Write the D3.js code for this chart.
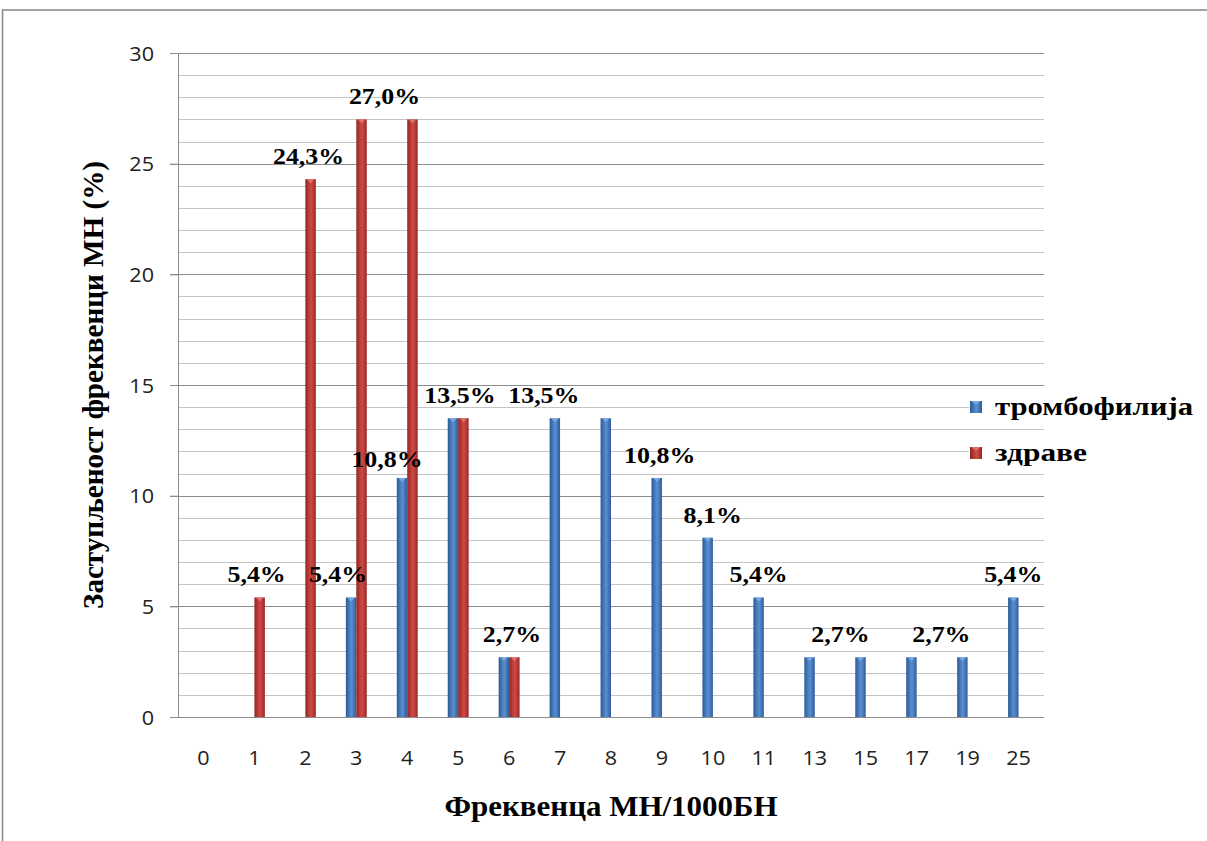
<!DOCTYPE html>
<html>
<head>
<meta charset="utf-8">
<script src="https://cdn.jsdelivr.net/npm/d3@7/dist/d3.min.js"></script>
<style>
  html, body { margin: 0; padding: 0; background: #fff; }
  svg { display: block; }
</style>
</head>
<body>
<svg id="chart" width="1207" height="841"></svg>
<script>
// ---------------- data ----------------
const categories = ['0','1','2','3','4','5','6','7','8','9','10','11','13','15','17','19','25'];
const seriesNames = ['тромбофилија', 'здраве'];
const thrombophilia = [0, 0, 0, 5.4, 10.8, 13.5, 2.7, 13.5, 13.5, 10.8, 8.1, 5.4, 2.7, 2.7, 2.7, 2.7, 5.4];
const healthy       = [0, 5.4, 24.3, 27.0, 27.0, 13.5, 2.7, 0, 0, 0, 0, 0, 0, 0, 0, 0, 0];
const yTicks = [0, 5, 10, 15, 20, 25, 30];
const yTitle = 'Заступљеност фреквенци МН (%)';
const xTitle = 'Фреквенца МН/1000БН';
// which bars carry a value label (category, series index)
const labelCats   = ['1', '2', '3', '3', '4', '5', '7', '6', '9', '10', '11', '15', '19', '25'];
const labelSeries = [1, 1, 1, 0, 0, 0, 0, 0, 0, 0, 0, 0, 0, 0];

// ---------------- layout ----------------
const plot = { left: 178, right: 1044, top: 53, bottom: 717 };
const labelDx = [-3, -2, 23, -13, -15, 7, -11, 8, 3, 5, 0, -20, -21, 0];
const labelDy = [0, 0, 0, 0, 4, 0, 0, 0, 0, 0, 0, 0, 0, 0];
const stretch = 1.08;
const serif = "'Liberation Serif', 'Times New Roman', serif";
const sans = "'Open Sans', 'Noto Sans', sans-serif";

const svg = d3.select('#chart');

// gradients
const defs = svg.append('defs');
function grad(id, stops) {
  const g = defs.append('linearGradient').attr('id', id).attr('x1', 0).attr('x2', 1).attr('y1', 0).attr('y2', 0);
  stops.forEach(s => g.append('stop').attr('offset', s[0]).attr('stop-color', s[1]));
}
grad('gBlue', [[0, '#2a5a94'], [0.3, '#4679ba'], [0.55, '#5a8ed0'], [0.8, '#4273b3'], [1, '#2c5c96']]);
grad('gRed',  [[0, '#8c2623'], [0.3, '#b93a36'], [0.55, '#cc4a45'], [0.8, '#b53733'], [1, '#8f2724']]);
const fills = ['url(#gBlue)', 'url(#gRed)'];
const capFills = ['#7eaee6', '#e07a76'];

// outer frame
svg.append('rect').attr('x', 2.5).attr('y', 10).attr('width', 1400).attr('height', 1200)
  .attr('fill', 'none').attr('stroke', '#8a8a8a').attr('stroke-width', 1.6);

// scales
const x = d3.scaleBand().domain(categories).range([plot.left, plot.right])
  .paddingInner(0.59).paddingOuter(0.295);
const xs = d3.scaleBand().domain([0, 1]).range([0, x.bandwidth()]);
const y = d3.scaleLinear().domain([0, 30]).range([plot.bottom, plot.top]);

// gridlines (minor every 1, major every 5)
const minor = d3.range(1, 30).filter(v => v % 5 !== 0);
svg.append('g').selectAll('line').data(minor).join('line')
  .attr('x1', plot.left).attr('x2', plot.right)
  .attr('y1', d => Math.round(y(d)) + 0.5).attr('y2', d => Math.round(y(d)) + 0.5)
  .attr('stroke', '#c4c4c4').attr('stroke-width', 1);
svg.append('g').selectAll('line').data(yTicks.filter(v => v > 0)).join('line')
  .attr('x1', plot.left - 8).attr('x2', plot.right)
  .attr('y1', d => Math.round(y(d)) + 0.5).attr('y2', d => Math.round(y(d)) + 0.5)
  .attr('stroke', '#8c8c8c').attr('stroke-width', 1);

// y axis via d3 axis
const yAxis = svg.append('g').attr('transform', `translate(${plot.left},0)`)
  .call(d3.axisLeft(y).tickValues(yTicks).tickSize(8).tickPadding(16).tickFormat(d3.format('d')));
yAxis.attr('font-family', null).attr('font-size', null);
yAxis.select('.domain').attr('stroke', '#8c8c8c');
yAxis.selectAll('.tick line').attr('stroke', '#8c8c8c');
yAxis.selectAll('.tick text')
  .style('font-family', sans).style('font-size', '20px').attr('fill', '#222')
  .attr('dy', '0.36em')
  .each(function () {
    const t = d3.select(this);
    const xx = +t.attr('x');
    t.attr('x', null).attr('transform', `translate(${xx},0) scale(${stretch},1)`);
  });

// x axis baseline
svg.append('line').attr('x1', plot.left - 8).attr('x2', plot.right)
  .attr('y1', plot.bottom + 0.5).attr('y2', plot.bottom + 0.5)
  .attr('stroke', '#8c8c8c').attr('stroke-width', 1.2);

// x tick labels
svg.append('g').selectAll('text').data(categories).join('text')
  .attr('transform', d => `translate(${x(d) + x.bandwidth() / 2},765) scale(${stretch},1)`)
  .attr('text-anchor', 'middle')
  .style('font-family', sans).style('font-size', '20px').attr('fill', '#222')
  .text(d => d);

// bars
const seriesValues = [thrombophilia, healthy];
const barData = [];
seriesValues.forEach((vals, si) => vals.forEach((v, i) => {
  if (v > 0) barData.push({ cat: categories[i], s: si, v });
}));
const bars = svg.append('g');
bars.selectAll('rect').data(barData).join('rect')
  .attr('x', d => x(d.cat) + xs(d.s))
  .attr('y', d => y(d.v))
  .attr('width', xs.bandwidth())
  .attr('height', d => y(0) - y(d.v))
  .attr('fill', d => fills[d.s]);
bars.selectAll('path').data(barData).join('path')
  .attr('d', d => {
    const x0 = x(d.cat) + xs(d.s), w = xs.bandwidth(), t = y(d.v);
    return `M${x0 + 1.5},${t} L${x0 + w - 1.5},${t} L${x0 + w / 2},${t + 4} Z`;
  })
  .attr('fill', d => capFills[d.s]).attr('opacity', 0.85);

// value labels
const fmt = v => d3.format('.1f')(v).replace('.', ',') + '%';
const labelData = labelCats.map((c, k) => {
  const si = labelSeries[k];
  const v = seriesValues[si][categories.indexOf(c)];
  return { cat: c, s: si, v, k };
});
svg.append('g').selectAll('text').data(labelData).join('text')
  .attr('transform', d => {
    const cx = x(d.cat) + xs(d.s) + xs.bandwidth() / 2 + labelDx[d.k];
    const cy = y(d.v) - 15 + labelDy[d.k];
    return `translate(${cx},${cy}) scale(${stretch},1)`;
  })
  .attr('text-anchor', 'middle')
  .style('font-family', serif).style('font-weight', 'bold').style('font-size', '24px').attr('fill', '#000')
  .text(d => fmt(d.v));

// axis titles
svg.append('text')
  .attr('transform', `translate(103,${(plot.top + plot.bottom) / 2}) rotate(-90)`)
  .attr('text-anchor', 'middle')
  .style('font-family', serif).style('font-weight', 'bold').style('font-size', '29px').attr('fill', '#000')
  .attr('textLength', 448).attr('lengthAdjust', 'spacingAndGlyphs')
  .text(yTitle);
svg.append('text')
  .attr('x', (plot.left + plot.right) / 2).attr('y', 816)
  .attr('text-anchor', 'middle')
  .style('font-family', serif).style('font-weight', 'bold').style('font-size', '29px').attr('fill', '#000')
  .attr('textLength', 333).attr('lengthAdjust', 'spacingAndGlyphs')
  .text(xTitle);

// legend (each entry sits on a white backing that hides the gridlines)
const legend = svg.append('g').attr('transform', 'translate(970,401)');
const legendTextLen = [198, 92];
seriesNames.forEach((name, i) => {
  const g = legend.append('g').attr('transform', `translate(0,${i * 46})`);
  g.append('rect').attr('x', -1).attr('y', -7).attr('width', 236).attr('height', 26).attr('fill', '#fff');
  g.append('rect').attr('x', 0).attr('y', 0).attr('width', 12).attr('height', 12).attr('fill', fills[i]);
  g.append('path').attr('d', 'M1.5,0 L10.5,0 L6,4 Z').attr('fill', capFills[i]).attr('opacity', 0.85);
  g.append('text').attr('x', 25).attr('y', 14)
    .style('font-family', serif).style('font-weight', 'bold').style('font-size', '26px').attr('fill', '#000')
    .attr('textLength', legendTextLen[i]).attr('lengthAdjust', 'spacingAndGlyphs')
    .text(name);
});
</script>
</body>
</html>
